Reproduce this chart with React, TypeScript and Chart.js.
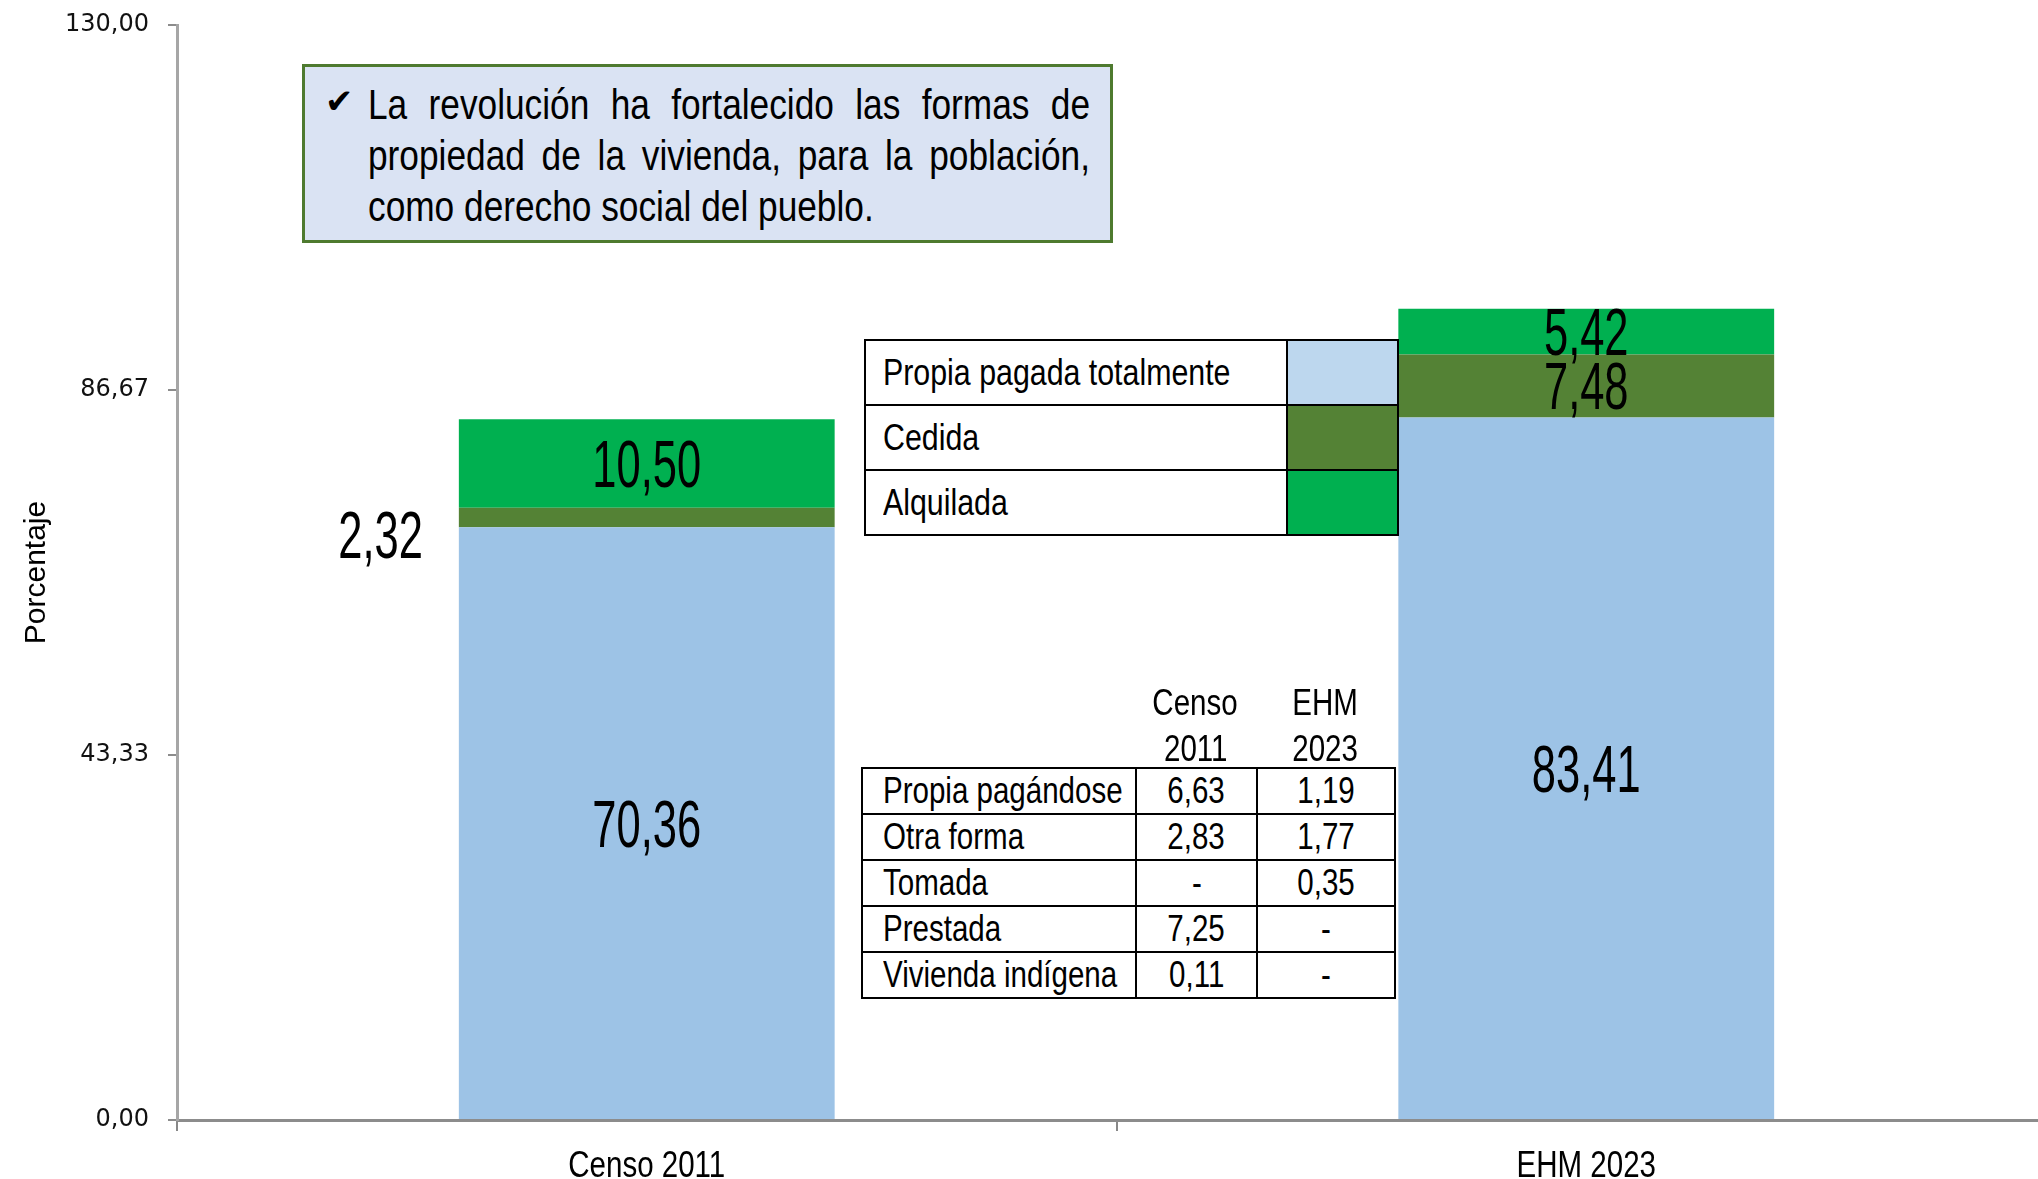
import React, { useEffect, useRef } from "react";
import { Chart, registerables } from "chart.js";

Chart.register(...registerables);

const categories = ["Censo 2011", "EHM 2023"];
const propiaPagada = [70.36, 83.41];
const cedida = [2.32, 7.48];
const alquilada = [10.5, 5.42];
const yTickValues = [0, 43.33, 86.67, 130];
const seriesNames = ["Propia pagada totalmente", "Cedida", "Alquilada"];
const seriesColors = ["#9DC3E6", "#548235", "#00B050"];
const legendSwatches = ["#BDD7EE", "#548235", "#00B050"];
const noteLines = [
  "La revolución ha fortalecido las formas de",
  "propiedad de la vivienda, para la población,",
  "como derecho social del pueblo.",
];
const tableHeaders = [["Censo", "2011"], ["EHM", "2023"]];
const tableRows = ["Propia pagándose", "Otra forma", "Tomada", "Prestada", "Vivienda indígena"];
const tableCenso = ["6,63", "2,83", "-", "7,25", "0,11"];
const tableEHM = ["1,19", "1,77", "0,35", "-", "-"];

const SANS = '"Liberation Sans", Arial, sans-serif';
const NX = 0.82; // horizontal compression (Arial Narrow look)
const fmt = (v: number) => v.toFixed(2).replace(".", ",");

const textPlugin = {
  id: "segLabels",
  afterDatasetsDraw(chart: any) {
    const ctx = chart.ctx;
    ctx.save();
    ctx.fillStyle = "#000";
    ctx.font = `53px ${SANS}`;
    ctx.textBaseline = "middle";
    chart.data.datasets.forEach((ds: any, di: number) => {
      const meta = chart.getDatasetMeta(di);
      meta.data.forEach((bar: any, i: number) => {
        const v = ds.data[i];
        const top = bar.y;
        const bottom = bar.base;
        const h = Math.abs(bottom - top);
        const mid = (top + bottom) / 2 + 5;
        let x = bar.x;
        let y = mid;
        if (h < 30) {
          ctx.textAlign = "right";
          x = bar.x - bar.width / 2 - 36;
          y = mid + 17;
        } else {
          ctx.textAlign = "center";
        }
        ctx.save();
        ctx.translate(x, y);
        ctx.scale(NX, 1.26);
        ctx.fillText(fmt(v), 0, 0);
        ctx.restore();
      });
    });
    // category labels under the x axis
    const xs = chart.scales.x;
    ctx.font = `36px ${SANS}`;
    ctx.textAlign = "center";
    ctx.textBaseline = "middle";
    chart.data.labels.forEach((lab: string, i: number) => {
      ctx.save();
      ctx.translate(xs.getPixelForTick(i), chart.chartArea.bottom + 47);
      ctx.scale(NX, 1.05);
      ctx.fillText(lab, 0, 0);
      ctx.restore();
    });
    ctx.restore();
  },
};

const N = ({ children, origin = "left center" }: { children: any; origin?: string }) => (
  <span style={{ display: "inline-block", transform: `scaleX(${NX})`, transformOrigin: origin, whiteSpace: "nowrap" }}>{children}</span>
);

export default function App() {
  const ref = useRef<HTMLCanvasElement | null>(null);
  useEffect(() => {
    if (!ref.current) return;
    const chart = new Chart(ref.current, {
      type: "bar",
      data: {
        labels: categories,
        datasets: [
          { label: seriesNames[0], data: propiaPagada, backgroundColor: seriesColors[0] },
          { label: seriesNames[1], data: cedida, backgroundColor: seriesColors[1] },
          { label: seriesNames[2], data: alquilada, backgroundColor: seriesColors[2] },
        ],
      },
      options: {
        animation: false,
        responsive: false,
        devicePixelRatio: 1,
        layout: { padding: { top: 25, left: 0, right: 0, bottom: 0 } },
        plugins: { legend: { display: false }, tooltip: { enabled: false } },
        datasets: { bar: { barPercentage: 0.4, categoryPercentage: 1 } },
        scales: {
          x: {
            stacked: true,
            grid: { drawOnChartArea: false, drawTicks: true, tickLength: 11, color: "#888888", lineWidth: 2, offset: true },
            border: { color: "#8C8C8C", width: 3 },
            ticks: { display: false },
            afterFit: (s: any) => { s.height = 59; s.paddingLeft = 0; s.paddingRight = 0; },
          },
          y: {
            stacked: true,
            min: 0,
            max: 130,
            afterBuildTicks: (s: any) => { s.ticks = yTickValues.map((v) => ({ value: v })); },
            grid: { drawOnChartArea: false, drawTicks: true, tickLength: 9, color: "#8C8C8C", lineWidth: 2 },
            border: { color: "#A6A6A6", width: 3 },
            ticks: {
              color: "#111",
              font: { family: '"DejaVu Sans", sans-serif', size: 24 },
              padding: 19,
              callback: (v: any) => fmt(Number(v)),
            },
            title: {
              display: true,
              text: "Porcentaje",
              color: "#000",
              font: { family: SANS, size: 30 },
              padding: { top: 19, bottom: 0 },
            },
            afterFit: (s: any) => { s.width = 177; s.paddingTop = 0; s.paddingBottom = 0; },
          },
        },
      },
      plugins: [textPlugin],
    } as any);
    return () => chart.destroy();
  }, []);

  const cell: React.CSSProperties = { border: "2px solid #000", padding: 0, overflow: "visible" };

  return (
    <div style={{ position: "absolute", left: 0, top: 0, width: 2038, height: 1179, overflow: "hidden", background: "#fff" }}>
      <canvas ref={ref} width={2056} height={1179} style={{ position: "absolute", left: 0, top: 0, width: 2056, height: 1179 }} />
      {/* note box */}
      <div
        style={{
          position: "absolute", left: 302, top: 64, width: 811, height: 179, boxSizing: "border-box",
          background: "#DAE3F3", border: "3px solid #4E7A2F", fontFamily: SANS, fontSize: 43, color: "#000",
        }}
      >
        <div style={{ position: "absolute", left: 20, top: 9, fontFamily: '"DejaVu Sans", sans-serif', fontSize: 34, lineHeight: "51px" }}>✔</div>
        <div
          style={{
            position: "absolute", left: 63, top: 12, width: 722 / NX, lineHeight: "51px",
            transform: `scaleX(${NX})`, transformOrigin: "left top",
          }}
        >
          {noteLines.map((l, i) => (
            <div
              key={i}
              style={{
                textAlign: i < noteLines.length - 1 ? "justify" : "left",
                textAlignLast: i < noteLines.length - 1 ? "justify" : "left",
                whiteSpace: "nowrap",
              } as any}
            >
              {l}
            </div>
          ))}
        </div>
      </div>
      {/* legend table */}
      <table
        style={{
          position: "absolute", left: 864, top: 339, width: 533, height: 195, borderCollapse: "collapse", tableLayout: "fixed",
          fontFamily: SANS, fontSize: 37, color: "#000", background: "#fff",
        }}
      >
        <colgroup>
          <col style={{ width: 422 }} />
          <col style={{ width: 111 }} />
        </colgroup>
        <tbody>
          {seriesNames.map((n, i) => (
            <tr key={i} style={{ height: 65 }}>
              <td style={{ ...cell, paddingLeft: 17 }}><N>{n}</N></td>
              <td style={{ ...cell, background: legendSwatches[i] }}></td>
            </tr>
          ))}
        </tbody>
      </table>
      {/* header of data table */}
      {tableHeaders.map((h, i) => (
        <div
          key={i}
          style={{
            position: "absolute", left: i === 0 ? 1135 : 1256, top: 680, width: i === 0 ? 121 : 138, textAlign: "center",
            fontFamily: SANS, fontSize: 36, lineHeight: "46px", color: "#000",
          }}
        >
          <N origin="center center">{h[0]}</N>
          <br />
          <N origin="center center">{h[1]}</N>
        </div>
      ))}
      {/* data table */}
      <table
        style={{
          position: "absolute", left: 861, top: 767, width: 533, height: 231, borderCollapse: "collapse", tableLayout: "fixed",
          fontFamily: SANS, fontSize: 36, color: "#000", background: "#fff", lineHeight: "40px",
        }}
      >
        <colgroup>
          <col style={{ width: 274 }} />
          <col style={{ width: 121 }} />
          <col style={{ width: 138 }} />
        </colgroup>
        <tbody>
          {tableRows.map((r, i) => (
            <tr key={i} style={{ height: 46 }}>
              <td style={{ ...cell, paddingLeft: 20 }}><N>{r}</N></td>
              <td style={{ ...cell, textAlign: "center" }}><N origin="center center">{tableCenso[i]}</N></td>
              <td style={{ ...cell, textAlign: "center" }}><N origin="center center">{tableEHM[i]}</N></td>
            </tr>
          ))}
        </tbody>
      </table>
    </div>
  );
}
